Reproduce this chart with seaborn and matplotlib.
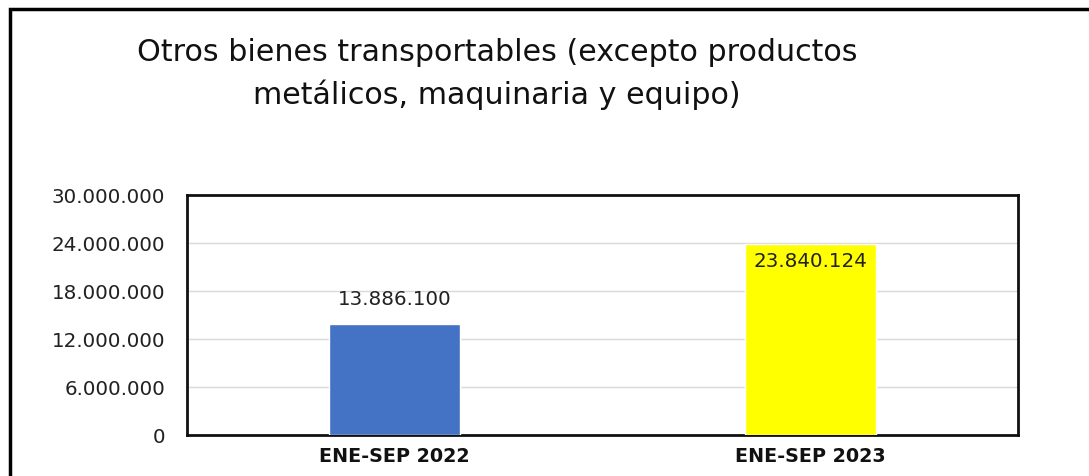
import matplotlib
matplotlib.use("Agg")
import matplotlib.pyplot as plt
import seaborn as sns
import pandas as pd
from matplotlib.patches import Rectangle

categories = ["ENE-SEP 2022", "ENE-SEP 2023"]
values = [13886100, 23840124]
colors = ["#4472C4", "#FFFF00"]
yticks = [0, 6000000, 12000000, 18000000, 24000000, 30000000]
title = "Otros bienes transportables (excepto productos\nmetálicos, maquinaria y equipo)"

sns.set_style("white")
plt.rcParams['font.family'] = ['DejaVu Sans']

def fmt(v):
    return f"{v:,}".replace(",", ".")

df = pd.DataFrame({"cat": categories, "val": values})

fig = plt.figure(figsize=(10.89, 4.77), dpi=100)
ax = fig.add_axes([187/1089, 1-436/477, (1018-187)/1089, (436-196)/477])

sns.barplot(data=df, x="cat", y="val", hue="cat", palette=colors, width=0.316,
            legend=False, ax=ax, saturation=1, zorder=3)

ax.set_xlim(-0.5, 1.5)
ax.set_ylim(0, 30000000)
ax.set_yticks(yticks)
ax.set_yticklabels([fmt(t) for t in yticks], fontsize=14.3, color="#222222")
ax.set_xlabel("")
ax.set_ylabel("")
ax.tick_params(axis="y", length=0, pad=15.5)
ax.tick_params(axis="x", length=0, pad=8)
for lbl in ax.get_xticklabels():
    lbl.set_fontweight("bold")
    lbl.set_fontsize(13.8)
    lbl.set_color("#111111")

ax.yaxis.grid(True, color="#D9D9D9", linewidth=1, zorder=0)
ax.set_axisbelow(True)
for sp in ax.spines.values():
    sp.set_visible(True)
    sp.set_color("#111111")
    sp.set_linewidth(2)

# data labels
ax.annotate(fmt(values[0]), xy=(0, values[0]), xytext=(0, 18), textcoords="offset points",
            ha="center", va="center", fontsize=14.3, color="#222222")
ax.annotate(fmt(values[1]), xy=(1, values[1]), xytext=(0, -12), textcoords="offset points",
            ha="center", va="center", fontsize=14.3, color="#222222")

fig.text(497/1089, 1-74/477, title, ha="center", va="center", fontsize=21.7,
         color="#111111", linespacing=1.55)

# outer border
fig.patches.append(Rectangle((10/1089, -0.2), 1.2, 1.2 - 10/477, transform=fig.transFigure,
                             fill=False, edgecolor="black", linewidth=2.5, zorder=10))

fig.savefig("out.png", dpi=100)
